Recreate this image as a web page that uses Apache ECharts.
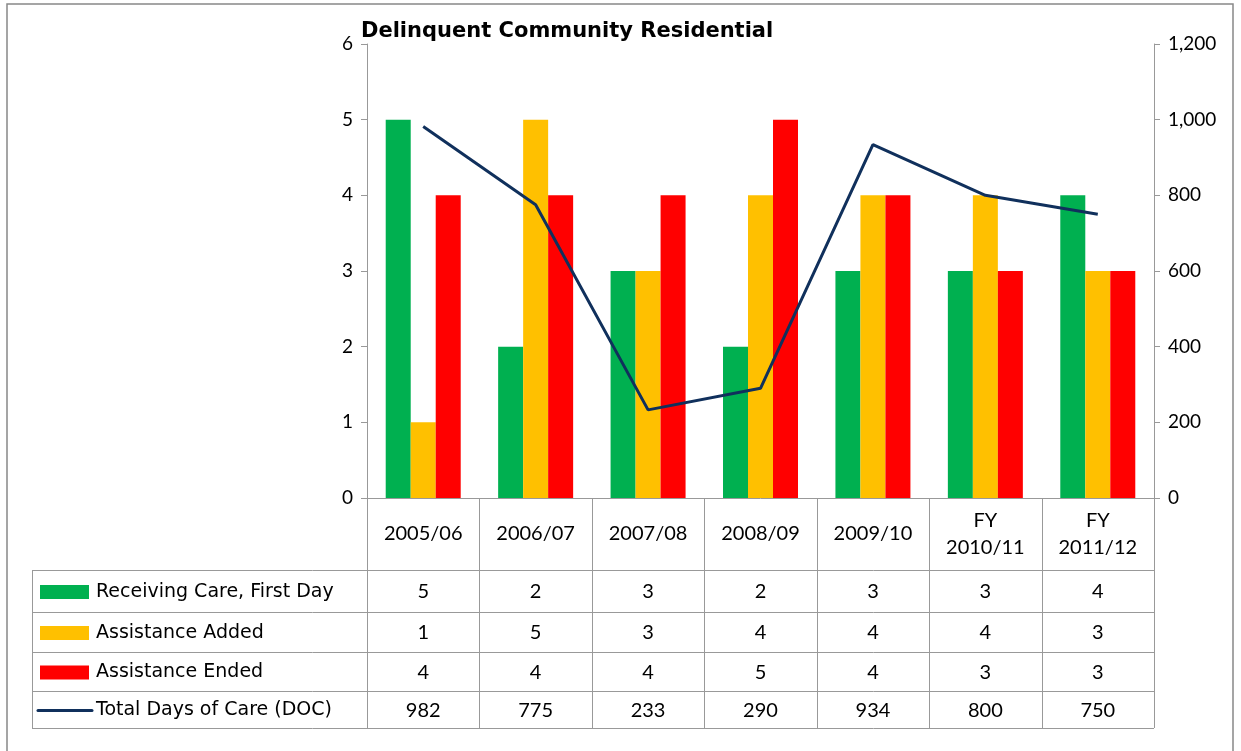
<!DOCTYPE html>
<html>
<head>
<meta charset="utf-8">
<script src="https://cdn.jsdelivr.net/npm/echarts@6/dist/echarts.min.js"></script>
<style>
  html, body { margin: 0; padding: 0; background: #fff; }
  #main { width: 1241px; height: 751px; }
</style>
</head>
<body>
<div id="main"></div>
<script>
// data
const categories = ['2005/06', '2006/07', '2007/08', '2008/09', '2009/10', 'FY\n2010/11', 'FY\n2011/12'];
const receivingCare = [5, 2, 3, 2, 3, 3, 4];
const assistanceAdded = [1, 5, 3, 4, 4, 4, 3];
const assistanceEnded = [4, 4, 4, 5, 4, 3, 3];
const totalDays = [982, 775, 233, 290, 934, 800, 750];

const seriesNames = ['Receiving Care, First Day', 'Assistance Added', 'Assistance Ended', 'Total Days of Care (DOC)'];
const colors = ['#00B050', '#FFC000', '#FF0000', '#10305C'];

const FONT = 'Lato';
const WIDE_FONT = 'DejaVu Sans';
const GRID = { left: 367, right: 87, top: 44, bottom: 253 };
const rowLines = [570, 612, 652, 691, 728]; // table row borders
const tableLeft = 32;

const chart = echarts.init(document.getElementById('main'));

const bar = (name, data, color) => ({
  name: name,
  type: 'bar',
  data: data,
  barWidth: 25,
  barGap: '0%',
  itemStyle: { color: color },
  yAxisIndex: 0,
});

chart.setOption({
  animation: false,
  backgroundColor: '#fff',
  textStyle: { fontFamily: FONT },
  title: {
    text: 'Delinquent Community Residential',
    left: 356,
    top: 16,
    textStyle: { fontFamily: WIDE_FONT, fontSize: 21, fontWeight: 'bold', color: '#000' },
  },
  grid: GRID,
  xAxis: {
    type: 'category',
    data: categories,
    axisLine: { lineStyle: { color: '#999', width: 1 } },
    axisTick: { show: false },
    axisLabel: { show: false },
  },
  yAxis: [
    {
      type: 'value',
      min: 0,
      max: 6,
      interval: 1,
      splitLine: { show: false },
      axisLine: { show: true, lineStyle: { color: '#999' } },
      axisTick: { show: true, length: 6, lineStyle: { color: '#999' } },
      axisLabel: { color: '#000', fontSize: 19, margin: 14, fontFamily: FONT },
    },
    {
      type: 'value',
      min: 0,
      max: 1200,
      interval: 200,
      position: 'right',
      splitLine: { show: false },
      axisLine: { show: true, lineStyle: { color: '#999' } },
      axisTick: { show: true, length: 6, lineStyle: { color: '#999' } },
      axisLabel: {
        color: '#000', fontSize: 19, margin: 14, fontFamily: FONT,
        formatter: (v) => v.toLocaleString('en-US'),
      },
    },
  ],
  series: [
    bar(seriesNames[0], receivingCare, colors[0]),
    bar(seriesNames[1], assistanceAdded, colors[1]),
    bar(seriesNames[2], assistanceEnded, colors[2]),
    {
      name: seriesNames[3],
      type: 'line',
      data: totalDays,
      yAxisIndex: 1,
      showSymbol: false,
      symbol: 'none',
      lineStyle: { color: colors[3], width: 3 },
      z: 5,
    },
  ],
});

// data table under the plot, positioned from the category axis
function drawTable() {
  const rect = chart.getModel().getComponent('grid').coordinateSystem.getRect();
  const axisY = rect.y + rect.height;
  const right = rect.x + rect.width;
  const colW = rect.width / categories.length;
  const lineStyle = { stroke: '#999', lineWidth: 1 };
  const els = [];

  // outer chart border
  els.push({ type: 'rect', shape: { x: 7, y: 4, width: 1226, height: 760 },
    style: { fill: null, stroke: '#888', lineWidth: 1.5 }, silent: true });

  // vertical column lines
  for (let k = 0; k <= categories.length; k++) {
    const x = Math.round(rect.x + colW * k) + 0.5;
    els.push({ type: 'line', shape: { x1: x, y1: axisY, x2: x, y2: rowLines[rowLines.length - 1] }, style: lineStyle });
  }
  els.push({ type: 'line', shape: { x1: tableLeft + 0.5, y1: rowLines[0], x2: tableLeft + 0.5, y2: rowLines[rowLines.length - 1] }, style: lineStyle });
  rowLines.forEach((y) => {
    els.push({ type: 'line', shape: { x1: tableLeft, y1: y + 0.5, x2: right, y2: y + 0.5 }, style: lineStyle });
  });

  // header row: category names
  categories.forEach((c, i) => {
    const cx = chart.convertToPixel({ xAxisIndex: 0 }, i);
    els.push({ type: 'text', x: cx, y: (axisY + rowLines[0]) / 2,
      style: { text: c, fontFamily: FONT, fontSize: 20, fill: '#000', align: 'center', verticalAlign: 'middle', lineHeight: 27 } });
  });

  // data rows
  const rows = [receivingCare, assistanceAdded, assistanceEnded, totalDays];
  rows.forEach((vals, r) => {
    const cy = (rowLines[r] + rowLines[r + 1]) / 2 + 1;
    if (r < 3) {
      els.push({ type: 'rect', shape: { x: 40, y: cy - 7, width: 49, height: 14 }, style: { fill: colors[r] } });
    } else {
      els.push({ type: 'line', shape: { x1: 38, y1: cy, x2: 92, y2: cy }, style: { stroke: colors[r], lineWidth: 3, lineCap: 'round' } });
    }
    els.push({ type: 'text', x: 96, y: cy,
      style: { text: seriesNames[r], fontFamily: WIDE_FONT, fontSize: 19, fill: '#000', align: 'left', verticalAlign: 'middle' } });
    vals.forEach((v, i) => {
      const cx = chart.convertToPixel({ xAxisIndex: 0 }, i);
      els.push({ type: 'text', x: cx, y: cy,
        style: { text: String(v), fontFamily: FONT, fontSize: 20, fill: '#000', align: 'center', verticalAlign: 'middle' } });
    });
  });

  chart.setOption({ graphic: { elements: els } });
}
drawTable();
</script>
</body>
</html>
